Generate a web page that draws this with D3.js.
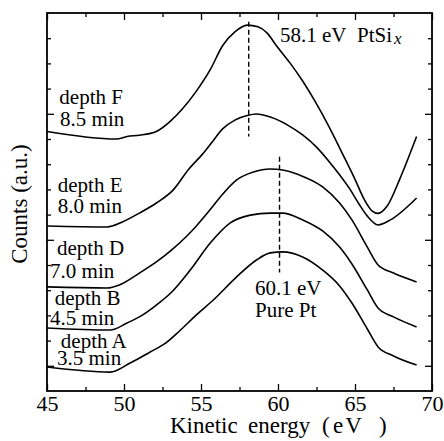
<!DOCTYPE html>
<html>
<head>
<meta charset="utf-8">
<script src="https://cdn.jsdelivr.net/npm/d3@7"></script>
<style>
  html, body { margin: 0; padding: 0; background: #fff; }
  svg { display: block; }
  text { font-family: "Liberation Serif", "Times New Roman", serif; fill: #000; }
</style>
</head>
<body>
<svg id="chart" width="444" height="441"></svg>
<script>
// Auger spectra (kinetic energy in eV, counts in arbitrary units, offset per depth)
const depthF = [[45,10.3],[49.5,10.0],[50.2,10.1],[51,10.15],[52.1,10.3],[53,10.7],[53.8,11.2],[54.7,11.9],[55.6,12.75],[56.4,13.7],[57.2,14.25],[58.0,14.52],[58.7,14.45],[59.3,14.2],[59.9,13.7],[60.8,13.0],[61.6,12.3],[62.4,11.5],[63.3,10.5],[64.2,9.4],[65,8.4],[65.6,7.6],[66.1,7.15],[66.5,7.05],[67.1,7.35],[67.9,8.4],[69,10.1]];
const depthE = [[45,6.55],[48.9,6.51],[49.9,6.71],[51.0,7.06],[52.1,7.46],[53.2,7.98],[54.2,8.8],[55.1,9.4],[55.7,9.86],[56.4,10.4],[57.2,10.75],[58.0,10.93],[58.6,10.99],[59.5,10.87],[60.6,10.56],[61.6,10.16],[62.5,9.68],[63.6,8.89],[64.7,7.98],[65.3,7.38],[65.8,6.94],[66.5,6.59],[67.3,6.79],[69.0,7.66]];
const depthD = [[45,4.13],[48.9,4.09],[49.7,4.21],[51.0,4.68],[52.1,5.12],[53.1,5.6],[54.0,6.1],[54.7,6.55],[55.6,7.2],[56.2,7.66],[57.3,8.37],[58.4,8.69],[59.5,8.81],[60.3,8.77],[61.4,8.57],[62.9,8.1],[64.0,7.46],[64.8,6.79],[65.8,5.71],[66.5,5.0],[67.5,4.68],[69.0,4.33]];
const depthB = [[45,2.5],[49.1,2.42],[50.2,2.7],[51.0,2.94],[52.1,3.41],[53.1,3.93],[54.3,4.8],[55.6,5.87],[56.9,6.67],[58.2,6.98],[59.5,7.06],[60.3,7.06],[61.6,6.79],[62.9,6.35],[64.0,5.71],[64.8,5.04],[65.8,4.01],[66.5,3.29],[67.5,2.94],[69.0,2.54]];
const depthA = [[45,0.95],[49.1,0.75],[50.4,1.11],[51.7,1.55],[52.7,1.9],[53.6,2.38],[54.7,3.02],[55.8,3.61],[57.3,4.52],[58.6,5.2],[59.5,5.48],[60.3,5.52],[61.6,5.32],[62.9,4.8],[64.0,4.17],[64.8,3.49],[65.8,2.46],[66.5,1.75],[67.5,1.39],[69.0,1.03]];

const seriesList = [depthF, depthE, depthD, depthB, depthA];

// curve labels: name, sputter time, anchor point (eV, counts)
const labelNames = ["depth F", "depth E", "depth D", "depth B", "depth A"];
const labelTimes = ["8.5 min", "8.0 min", "7.0 min", "4.5 min", "3.5 min"];
const labelAnchors = [[45.8, 11.4], [45.7, 7.9], [45.65, 5.4], [45.5, 3.4], [45.9, 1.7]];
const timeAnchors = [[45.85, 10.5], [45.7, 7.05], [45.2, 4.5], [45.2, 2.6], [45.65, 1.03]];

// peak markers
const peakEnergies = [58.1, 60.1];
const peakRanges = [[10.1, 14.65], [4.7, 9.3]];

const xMajor = [45, 50, 55, 60, 65, 70];
const xMinor = [47.5, 52.5, 57.5, 62.5, 67.5];
const yMajor = [1, 6, 11];
const yMinor = [2, 3, 4, 5, 7, 8, 9, 10, 12, 13, 14];

const svg = d3.select("#chart");
const x = d3.scaleLinear().domain([45, 70]).range([47, 432]);
const y = d3.scaleLinear().domain([0, 15]).range([391, 13]);

// axes with inward ticks
function styleAxis(g) {
  g.select(".domain").remove();
  g.selectAll(".tick line").attr("stroke", "#000").attr("stroke-width", 1.3);
}
svg.append("g").attr("transform", "translate(0,391)")
  .call(d3.axisBottom(x).tickValues(xMajor).tickSize(-7).tickPadding(4).tickFormat(d3.format("d")))
  .call(styleAxis)
  .call(g => g.selectAll("text").attr("font-size", 22).attr("font-family", "Liberation Serif").attr("fill", "#000"));
svg.append("g").attr("transform", "translate(0,391)")
  .call(d3.axisBottom(x).tickValues(xMinor).tickSize(-4).tickFormat(""))
  .call(styleAxis);
svg.append("g").attr("transform", "translate(0,13)")
  .call(d3.axisTop(x).tickValues(xMajor).tickSize(-7).tickFormat(""))
  .call(styleAxis);
svg.append("g").attr("transform", "translate(0,13)")
  .call(d3.axisTop(x).tickValues(xMinor).tickSize(-4).tickFormat(""))
  .call(styleAxis);
svg.append("g").attr("transform", "translate(47,0)")
  .call(d3.axisLeft(y).tickValues(yMajor).tickSize(-7).tickFormat(""))
  .call(styleAxis);
svg.append("g").attr("transform", "translate(47,0)")
  .call(d3.axisLeft(y).tickValues(yMinor).tickSize(-4).tickFormat(""))
  .call(styleAxis);
svg.append("g").attr("transform", "translate(432,0)")
  .call(d3.axisRight(y).tickValues(yMajor).tickSize(-7).tickFormat(""))
  .call(styleAxis);
svg.append("g").attr("transform", "translate(432,0)")
  .call(d3.axisRight(y).tickValues(yMinor).tickSize(-4).tickFormat(""))
  .call(styleAxis);

// frame
svg.append("rect")
  .attr("x", x(45)).attr("y", y(15))
  .attr("width", x(70) - x(45)).attr("height", y(0) - y(15))
  .attr("fill", "none").attr("stroke", "#000").attr("stroke-width", 1.8);

// spectra
const line = d3.line().x(d => x(d[0])).y(d => y(d[1])).curve(d3.curveMonotoneX);
svg.append("g").selectAll("path").data(seriesList).join("path")
  .attr("d", line)
  .attr("fill", "none").attr("stroke", "#000").attr("stroke-width", 1.6)
  .attr("stroke-linejoin", "round");

// dashed peak markers
svg.append("g").selectAll("line").data(peakEnergies).join("line")
  .attr("x1", d => x(d)).attr("x2", d => x(d))
  .attr("y1", (d, i) => y(peakRanges[i][1])).attr("y2", (d, i) => y(peakRanges[i][0]))
  .attr("stroke", "#000").attr("stroke-width", 1.4).attr("stroke-dasharray", "5,3");

// curve labels
const lab = svg.append("g").attr("font-size", 21);
labelNames.forEach((t, i) => {
  lab.append("text").attr("x", x(labelAnchors[i][0])).attr("y", y(labelAnchors[i][1])).text(t);
  lab.append("text").attr("x", x(timeAnchors[i][0])).attr("y", y(timeAnchors[i][1])).text(labelTimes[i]);
});

// peak annotations
const pk = svg.append("text").attr("y", 42).attr("font-size", 21);
pk.append("tspan").attr("x", 280).text("58.1 eV");
pk.append("tspan").attr("x", 357).text("PtSi");
pk.append("tspan").attr("font-style", "italic").attr("font-size", 17).attr("dx", 2).attr("dy", 2).text("x");
svg.append("text").attr("x", 255).attr("y", 295).attr("font-size", 21).text("60.1 eV");
svg.append("text").attr("x", 255).attr("y", 317).attr("font-size", 21).text("Pure Pt");

// axis titles
const xt = svg.append("text").attr("y", 433).attr("font-size", 23);
xt.append("tspan").attr("x", 170).text("Kinetic");
xt.append("tspan").attr("x", 248).text("energy");
xt.append("tspan").attr("x", 322).text("(");
xt.append("tspan").attr("x", 333).attr("letter-spacing", 2).text("eV");
xt.append("tspan").attr("x", 379).text(")");
svg.append("text")
  .attr("transform", "translate(27,204) rotate(-90)")
  .attr("text-anchor", "middle").attr("font-size", 23)
  .text("Counts (a.u.)");
</script>
</body>
</html>
